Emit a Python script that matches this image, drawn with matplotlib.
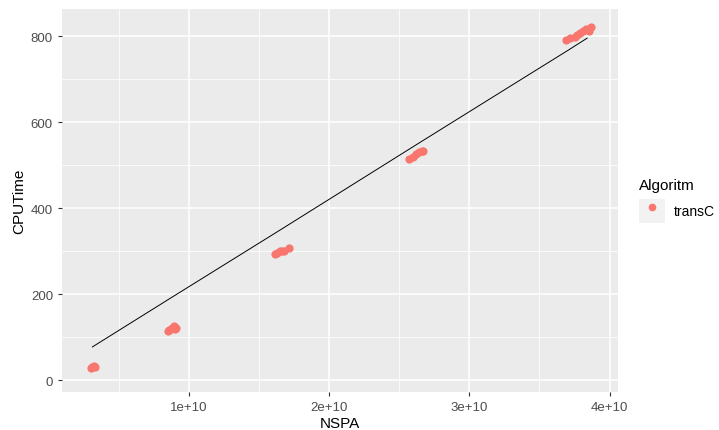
import matplotlib
matplotlib.use("Agg")
import matplotlib.pyplot as plt
from matplotlib.patches import Rectangle
from matplotlib.lines import Line2D
from matplotlib.legend_handler import HandlerTuple

plt.rcParams['font.family'] = ['Liberation Sans', 'DejaVu Sans']

# observed points (NSPA, CPUTime), algorithm transC
nspa = [0.30e10, 0.31e10, 0.32e10, 0.33e10,
        0.85e10, 0.86e10, 0.87e10, 0.88e10, 0.89e10, 0.90e10, 0.91e10,
        1.61e10, 1.63e10, 1.65e10, 1.66e10, 1.68e10, 1.71e10,
        2.57e10, 2.60e10, 2.62e10, 2.64e10, 2.66e10, 2.67e10,
        3.69e10, 3.72e10, 3.75e10, 3.77e10, 3.79e10, 3.81e10, 3.83e10, 3.85e10, 3.87e10]
cputime = [29, 31, 33, 30,
           113, 116, 119, 122, 125, 118, 121,
           293, 296, 299, 301, 300, 307,
           514, 519, 525, 530, 533, 532,
           791, 795, 798, 802, 806, 812, 816, 811, 822]

# fitted line
fit_x = [0.31e10, 0.87e10, 1.66e10, 2.62e10, 3.30e10, 3.70e10, 3.84e10]
fit_y = [77, 191, 351, 547, 685, 766, 795]

xticks = [1e10, 2e10, 3e10, 4e10]
xticklabels = ["1e+10", "2e+10", "3e+10", "4e+10"]
yticks = [0, 200, 400, 600, 800]

fig = plt.figure(figsize=(7.19, 4.31), dpi=100)
ax = fig.add_axes([0.0862, 0.088, 0.7733, 0.889])
ax.set_facecolor('#EBEBEB')

ax.set_xlim(0.093e10, 4.06e10)
ax.set_ylim(-28, 863)

ax.set_xticks(xticks)
ax.set_xticklabels(xticklabels)
ax.set_yticks(yticks)
ax.set_xticks([0.5e10, 1.5e10, 2.5e10, 3.5e10], minor=True)
ax.set_yticks([100, 300, 500, 700], minor=True)
ax.grid(which='major', color='white', linewidth=1.1)
ax.grid(which='minor', color='white', linewidth=0.55)
ax.set_axisbelow(True)
for s in ax.spines.values():
    s.set_visible(False)
ax.tick_params(which='major', length=3, color='#333333', labelcolor='#4D4D4D', labelsize=9.5)
ax.tick_params(which='minor', length=0)

ax.plot(fit_x, fit_y, color='black', linewidth=0.7)
ax.scatter(nspa, cputime, s=24, color='#F8766D', zorder=3)

ax.set_xlabel("NSPA", fontsize=11, labelpad=2)
ax.set_ylabel("CPUTime", fontsize=11, labelpad=3)

# legend key: grey square with a point, like ggplot
key_bg = Rectangle((0, 0), 1, 1, facecolor='#F2F2F2', edgecolor='none')
key_pt = Line2D([], [], marker='o', linestyle='none', color='#F8766D', markersize=4.5)
leg = ax.legend([(key_bg, key_pt)], ["transC"], title="Algoritm",
                handler_map={tuple: HandlerTuple(ndivide=1, pad=0)},
                loc='center left', bbox_to_anchor=(1.02, 0.5),
                frameon=False, fontsize=10, title_fontsize=11,
                handlelength=1.9, handleheight=2.3, handletextpad=0.6,
                borderaxespad=0.3)
leg._legend_box.align = "left"

fig.savefig("out.png", dpi=100)
